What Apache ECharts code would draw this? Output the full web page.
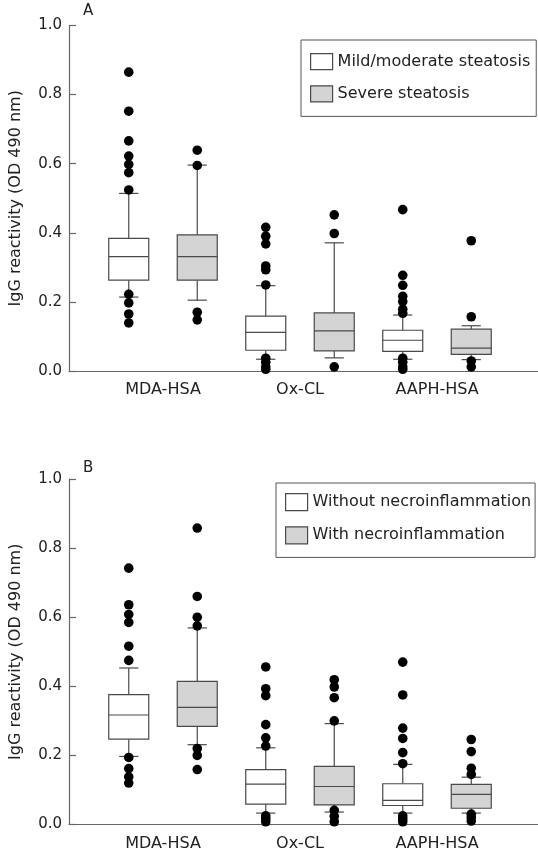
<!DOCTYPE html>
<html>
<head>
<meta charset="utf-8">
<script src="https://cdn.jsdelivr.net/npm/echarts@6/dist/echarts.min.js"></script>
<style>
html,body{margin:0;padding:0;background:#fff;}
#chart{width:538px;height:852px;}
</style>
</head>
<body>
<div id="chart"></div>
<script>
// ---- data ----
const categories = ['MDA-HSA', 'Ox-CL', 'AAPH-HSA'];
const yTicks = [0, 0.2, 0.4, 0.6, 0.8, 1.0];

// box stats per category: [lower whisker, Q1, median, Q3, upper whisker]
const aMildBox = [
  [0.214, 0.263, 0.331, 0.384, 0.514],
  [0.034, 0.060, 0.112, 0.159, 0.247],
  [0.034, 0.057, 0.089, 0.118, 0.162]
];
const aSevereBox = [
  [0.205, 0.263, 0.331, 0.394, 0.596],
  [0.038, 0.058, 0.116, 0.168, 0.371],
  [0.033, 0.048, 0.066, 0.121, 0.131]
];
const bWithoutBox = [
  [0.197, 0.247, 0.317, 0.376, 0.453],
  [0.033, 0.059, 0.117, 0.159, 0.222],
  [0.033, 0.055, 0.070, 0.118, 0.174]
];
const bWithBox = [
  [0.231, 0.284, 0.339, 0.414, 0.569],
  [0.036, 0.057, 0.110, 0.168, 0.292],
  [0.033, 0.047, 0.087, 0.116, 0.137]
];

// outliers per category
const aMildOut = [
  [0.865, 0.752, 0.666, 0.622, 0.598, 0.574, 0.524, 0.222, 0.197, 0.165, 0.139],
  [0.416, 0.390, 0.368, 0.304, 0.293, 0.249, 0.037, 0.025, 0.012, 0.005],
  [0.467, 0.277, 0.248, 0.216, 0.201, 0.179, 0.167, 0.037, 0.025, 0.012, 0.005]
];
const aSevereOut = [
  [0.639, 0.595, 0.170, 0.148],
  [0.452, 0.398, 0.012],
  [0.377, 0.157, 0.029, 0.012]
];
const bWithoutOut = [
  [0.742, 0.636, 0.608, 0.585, 0.516, 0.475, 0.194, 0.162, 0.138, 0.120],
  [0.456, 0.393, 0.373, 0.289, 0.251, 0.227, 0.025, 0.017, 0.008],
  [0.470, 0.375, 0.279, 0.249, 0.208, 0.176, 0.025, 0.017, 0.008]
];
const bWithOut = [
  [0.858, 0.660, 0.600, 0.575, 0.220, 0.200, 0.159],
  [0.419, 0.398, 0.367, 0.300, 0.041, 0.024, 0.008],
  [0.246, 0.211, 0.163, 0.145, 0.030, 0.020, 0.010]
];

const legendA = ['Mild/moderate steatosis', 'Severe steatosis'];
const legendB = ['Without necroinflammation', 'With necroinflammation'];
const panelLabels = ['A', 'B'];
const yName = 'IgG reactivity (OD 490 nm)';

// ---- styles ----
const FONT = 'DejaVu Sans';
const TEXT = '#222';
const AXIS = '#666';
const STROKE = '#4a4a4a';
const WHITE = '#ffffff';
const GRAY = '#d4d4d4';

function boxData(stats) {
  return stats.map((s, i) => [i].concat(s));
}
function outData(outs) {
  const res = [];
  outs.forEach((arr, i) => arr.forEach(v => res.push([i, v])));
  return res;
}

function boxRenderer(side, fill) {
  return function (params, api) {
    const c = api.value(0);
    const band = api.size([1, 0])[0];
    const cx = api.coord([c, 0])[0] + side * band / 4;
    const y = k => api.coord([c, api.value(k)])[1];
    const yLo = y(1), yQ1 = y(2), yMed = y(3), yQ3 = y(4), yHi = y(5);
    const w = band * 0.292;
    const cap = w * 0.48;
    const ls = { stroke: STROKE, lineWidth: 1.2 };
    return {
      type: 'group',
      children: [
        { type: 'line', shape: { x1: cx, y1: yHi, x2: cx, y2: yQ3 }, style: ls },
        { type: 'line', shape: { x1: cx, y1: yQ1, x2: cx, y2: yLo }, style: ls },
        { type: 'line', shape: { x1: cx - cap / 2, y1: yHi, x2: cx + cap / 2, y2: yHi }, style: ls },
        { type: 'line', shape: { x1: cx - cap / 2, y1: yLo, x2: cx + cap / 2, y2: yLo }, style: ls },
        { type: 'rect', shape: { x: cx - w / 2, y: yQ3, width: w, height: yQ1 - yQ3 }, style: { fill: fill, stroke: STROKE, lineWidth: 1.2 } },
        { type: 'line', shape: { x1: cx - w / 2, y1: yMed, x2: cx + w / 2, y2: yMed }, style: ls }
      ]
    };
  };
}
function outRenderer(side) {
  return function (params, api) {
    const c = api.value(0);
    const band = api.size([1, 0])[0];
    const p = api.coord([c, api.value(1)]);
    return {
      type: 'circle',
      shape: { cx: p[0] + side * band / 4, cy: p[1], r: 4.8 },
      style: { fill: '#000' }
    };
  };
}

const panels = [
  { top: 25.5, names: legendA, boxes: [aMildBox, aSevereBox], outs: [aMildOut, aSevereOut],
    legend: { left: 301, top: 40, padding: [13, 6, 14, 9], itemHeight: 16, itemGap: 15 } },
  { top: 479, names: legendB, boxes: [bWithoutBox, bWithBox], outs: [bWithoutOut, bWithOut],
    legend: { left: 276, top: 483, padding: [10, 4, 13, 9], itemHeight: 17, itemGap: 15 } }
];
const H = 345.5;

const grid = [], xAxis = [], yAxis = [], series = [], legend = [], title = [];
panels.forEach((p, pi) => {
  const gFrame = grid.length;
  grid.push({ left: 60, right: 0, top: p.top, height: H });
  const gData = grid.length;
  grid.push({ left: 94.5, width: 411, top: p.top, height: H });

  xAxis.push({
    gridIndex: gFrame, type: 'value', min: 0, max: 1,
    axisLine: { show: true, lineStyle: { color: AXIS, width: 1.2 } },
    axisTick: { show: false }, axisLabel: { show: false }, splitLine: { show: false }
  });
  xAxis.push({
    gridIndex: gData, type: 'category', data: categories,
    axisLine: { show: false }, axisTick: { show: false }, splitLine: { show: false },
    axisLabel: { margin: 11, fontFamily: FONT, fontSize: 16, color: TEXT }
  });
  yAxis.push({
    gridIndex: gFrame, type: 'value', min: yTicks[0], max: yTicks[yTicks.length - 1], interval: 0.2,
    axisLine: { show: true, lineStyle: { color: AXIS, width: 1.2 } },
    axisTick: { show: true, inside: true, length: 7, lineStyle: { color: AXIS, width: 1.2 } },
    axisLabel: { margin: 7, fontFamily: FONT, fontSize: 15, color: TEXT, formatter: v => v.toFixed(1) },
    splitLine: { show: false },
    name: yName, nameLocation: 'middle', nameGap: 45,
    nameTextStyle: { fontFamily: FONT, fontSize: 16, color: TEXT }
  });
  yAxis.push({
    gridIndex: gData, type: 'value', min: 0, max: 1, show: false, splitLine: { show: false }
  });

  const fills = [WHITE, GRAY];
  const sides = [-1, 1];
  [0, 1].forEach(k => {
    series.push({
      type: 'custom', name: p.names[k], xAxisIndex: gData, yAxisIndex: gData,
      renderItem: boxRenderer(sides[k], fills[k]),
      data: boxData(p.boxes[k]), encode: { x: 0, y: [1, 2, 3, 4, 5] },
      itemStyle: { color: fills[k] }, z: 2, clip: false
    });
    series.push({
      type: 'custom', name: p.names[k], xAxisIndex: gData, yAxisIndex: gData,
      renderItem: outRenderer(sides[k]),
      data: outData(p.outs[k]), encode: { x: 0, y: 1 },
      itemStyle: { color: fills[k] }, z: 3, clip: false
    });
  });

  legend.push({
    orient: 'vertical', left: p.legend.left, top: p.legend.top,
    padding: p.legend.padding, itemGap: p.legend.itemGap,
    itemWidth: 22, itemHeight: p.legend.itemHeight,
    borderColor: '#555', borderWidth: 1, borderRadius: 0,
    textStyle: { fontFamily: FONT, fontSize: 16, color: TEXT, lineHeight: 16 },
    selectedMode: false,
    data: p.names.map((n, k) => ({
      name: n, icon: 'rect',
      itemStyle: { color: fills[k], borderColor: STROKE, borderWidth: 1.2 }
    }))
  });

  title.push({
    text: panelLabels[pi], left: 78, top: pi === 0 ? -1 : 456,
    textStyle: { fontFamily: FONT, fontSize: 15, fontWeight: 'normal', color: TEXT }
  });
});

const chart = echarts.init(document.getElementById('chart'), null, { renderer: 'canvas' });
chart.setOption({
  backgroundColor: '#fff',
  animation: false,
  title, grid, xAxis, yAxis, legend, series
});
</script>
</body>
</html>
